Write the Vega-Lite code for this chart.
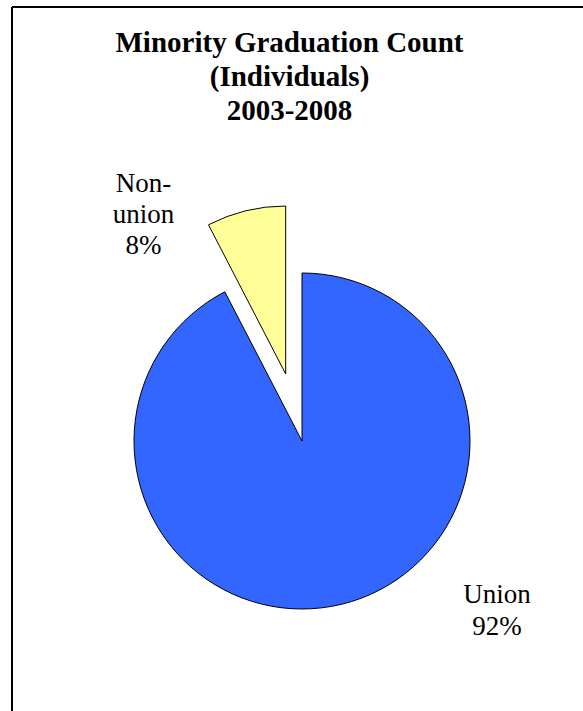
{
  "$schema": "https://vega.github.io/schema/vega-lite/v6.json",
  "width": 571,
  "height": 704,
  "autosize": {"type": "none"},
  "padding": {"left": 12, "top": 7, "right": 0, "bottom": 0},
  "background": "white",
  "config": {"view": {"stroke": null}},
  "title": {
    "text": ["Minority Graduation Count", "(Individuals)", "2003-2008"],
    "font": "'Liberation Serif', 'Times New Roman', serif",
    "fontSize": 29,
    "fontWeight": "bold",
    "lineHeight": 34,
    "color": "black",
    "anchor": "middle",
    "frame": "group",
    "dx": -8,
    "offset": -120
  },
  "data": {
    "values": [
      {"category": "Union", "value": 92.4, "label": "Union\n92%"},
      {"category": "Non-union", "value": 7.6, "label": "Non-\nunion\n8%"}
    ]
  },
  "transform": [
    {"stack": "value", "groupby": [], "as": ["v0", "v1"], "sort": [{"field": "category", "order": "descending"}]}
  ],
  "layer": [
    {
      "data": {"values": [{}]},
      "mark": {"type": "rule", "color": "black", "strokeWidth": 2},
      "encoding": {"x": {"value": 0}}
    },
    {
      "data": {"values": [{}]},
      "mark": {"type": "rule", "color": "black", "strokeWidth": 2},
      "encoding": {"y": {"value": 0}}
    },
    {
      "transform": [{"filter": "datum.category === 'Union'"}],
      "mark": {"type": "arc", "x": 290, "y": 434, "radius": 168, "stroke": "black", "strokeWidth": 1},
      "encoding": {
        "theta": {"field": "v0", "type": "quantitative", "stack": null, "scale": {"domain": [0, 100]}},
        "theta2": {"field": "v1"},
        "color": {"field": "category", "type": "nominal", "scale": {"domain": ["Union", "Non-union"], "range": ["#3366FF", "#FFFF99"]}, "legend": null}
      }
    },
    {
      "transform": [{"filter": "datum.category === 'Non-union'"}],
      "mark": {"type": "arc", "x": 290, "y": 434, "xOffset": -16.3, "yOffset": -67, "radius": 168, "stroke": "black", "strokeWidth": 1},
      "encoding": {
        "theta": {"field": "v0", "type": "quantitative", "stack": null, "scale": {"domain": [0, 100]}},
        "theta2": {"field": "v1"},
        "color": {"field": "category", "type": "nominal", "scale": {"domain": ["Union", "Non-union"], "range": ["#3366FF", "#FFFF99"]}, "legend": null}
      }
    },
    {
      "transform": [{"filter": "datum.category === 'Union'"}],
      "mark": {"type": "text", "x": 290, "y": 434, "radius": 248.5, "thetaOffset": 2.2392, "align": "center", "baseline": "middle", "font": "'Liberation Serif', 'Times New Roman', serif", "fontSize": 27, "lineHeight": 32, "lineBreak": "\n", "color": "black"},
      "encoding": {
        "theta": {"field": "v0", "type": "quantitative", "stack": null, "scale": {"domain": [0, 100]}},
        "text": {"field": "label"}
      }
    },
    {
      "transform": [{"filter": "datum.category === 'Non-union'"}],
      "mark": {"type": "text", "x": 290, "y": 434, "radius": 302, "thetaOffset": -0.0754, "align": "center", "baseline": "middle", "font": "'Liberation Serif', 'Times New Roman', serif", "fontSize": 27, "lineHeight": 31, "lineBreak": "\n", "color": "black"},
      "encoding": {
        "theta": {"field": "v0", "type": "quantitative", "stack": null, "scale": {"domain": [0, 100]}},
        "text": {"field": "label"}
      }
    }
  ]
}
